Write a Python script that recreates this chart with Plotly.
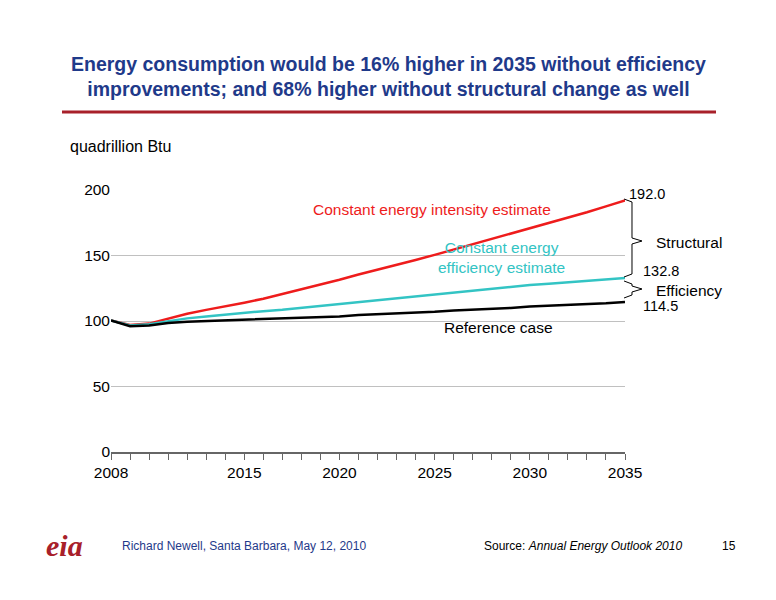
import plotly.graph_objects as go

years = list(range(2008, 2036))
reference = [100.5, 96, 96.5, 98.5, 99.5, 100, 100.5, 100.5, 101, 101.5, 102, 103, 103.5, 104.5,
             105, 105.5, 106, 107, 108, 108.5, 109.5, 110, 111, 111.5, 112, 112.5, 113.5, 114.5]
const_eff = [100.5, 96.5, 97.5, 100, 102, 103.5, 105, 106, 107.5, 108.5, 110, 111.5, 113, 114.5,
             116, 117.5, 119, 120.5, 122, 123.5, 125, 126.5, 127.5, 128.5, 129.5, 130.5, 131.5, 132.8]
const_int = [100.5, 97, 98, 102, 105.5, 108.5, 111, 114, 117, 120.5, 124, 127.5, 131.5, 135.5,
             139, 142.5, 146.5, 150.5, 154.5, 158.5, 162.5, 166.5, 170.5, 174.5, 178.5, 183, 187.5, 192]
tick_years = [2008, 2015, 2020, 2025, 2030, 2035]

OFF = 8  # page body margin
L, R, T, B = 111, 625, 190, 452
def px(x): return (x - L) / (R - L)
def py(y): return (B - y) / (B - T)

fig = go.Figure()
fig.add_trace(go.Scatter(x=years, y=const_int, mode="lines", line=dict(color="#ee1c1c", width=2.5)))
fig.add_trace(go.Scatter(x=years, y=const_eff, mode="lines", line=dict(color="#33c4c4", width=2.5)))
fig.add_trace(go.Scatter(x=years, y=reference, mode="lines", line=dict(color="black", width=2.5)))

def brace(x0, y0, y1, tip):
    xm = x0 + 8
    xt = x0 + 18
    pts = [(x0, y0), (xm, y0 + 3), (xm, tip - 3), (xt, tip), (xm, tip + 3), (xm, y1 - 3), (x0, y1)]
    d = "M " + " L ".join(f"{px(a):.4f},{py(b):.4f}" for a, b in pts)
    return dict(type="path", xref="paper", yref="paper", path=d, line=dict(color="black", width=1))

shapes = [
    dict(type="line", xref="paper", yref="paper", x0=px(62), x1=px(716), y0=py(112), y1=py(112),
         line=dict(color="#a8202a", width=3)),
    brace(624, 199, 277, 241),
    brace(624, 281, 298, 289),
]

ann = [
    dict(text="<b>Energy consumption would be 16% higher in 2035 without efficiency<br>improvements; and 68% higher without structural change as well</b>",
         x=px(388), y=py(76), font=dict(size=19.5, color="#1f3a8a")),
    dict(text="quadrillion Btu", x=px(68), y=py(147), xanchor="left", font=dict(size=16, color="black")),
    dict(text="Constant energy intensity estimate", x=px(432), y=py(209), font=dict(size=15.5, color="#ee1c1c")),
    dict(text="Constant energy<br>efficiency estimate", x=px(501), y=py(257), font=dict(size=15.5, color="#33c4c4")),
    dict(text="Reference case", x=px(498), y=py(327), font=dict(size=15.5, color="black")),
    dict(text="192.0", x=px(627), y=py(194), xanchor="left", font=dict(size=14.5, color="black")),
    dict(text="132.8", x=px(641), y=py(271), xanchor="left", font=dict(size=14.5, color="black")),
    dict(text="114.5", x=px(641), y=py(306), xanchor="left", font=dict(size=14.5, color="black")),
    dict(text="Structural", x=px(654), y=py(242), xanchor="left", font=dict(size=15.5, color="black")),
    dict(text="Efficiency", x=px(654), y=py(290), xanchor="left", font=dict(size=15.5, color="black")),
    dict(text="<b><i>eia</i></b>", x=px(64), y=py(545), font=dict(size=30, color="#a8202a", family="Arial Black")),
    dict(text="Richard Newell, Santa Barbara, May 12, 2010", x=px(120), y=py(546), xanchor="left",
         font=dict(size=12, color="#1f3a8a")),
    dict(text="Source: <i>Annual Energy Outlook 2010</i>", x=px(482), y=py(546), xanchor="left",
         font=dict(size=12, color="black")),
    dict(text="15", x=px(720), y=py(546), xanchor="left", font=dict(size=12, color="black")),
]
for a in ann:
    a.update(xref="paper", yref="paper", showarrow=False, yanchor="middle")
    a.setdefault("xanchor", "center")

fig.update_layout(
    width=776, height=600, showlegend=False,
    margin=dict(l=L - OFF, r=776 + OFF - R, t=T - OFF, b=600 + OFF - B),
    paper_bgcolor="white", plot_bgcolor="white",
    font=dict(family="Liberation Sans, Arial", size=15.5, color="black"),
    xaxis=dict(range=[2008, 2035], tickvals=tick_years, ticks="outside", ticklen=6, tickcolor="#666",
               showline=True, linecolor="#666", linewidth=1.5, showgrid=False,
               minor=dict(dtick=1, ticks="outside", ticklen=6, tickcolor="#666", showgrid=False),
               tickfont=dict(size=15.5)),
    yaxis=dict(range=[0, 200], dtick=50, showgrid=True, gridcolor="#c0c0c0", zeroline=False,
               tickfont=dict(size=15.5), ticks=""),
    shapes=shapes, annotations=ann,
)
fig.write_html("out.html")
